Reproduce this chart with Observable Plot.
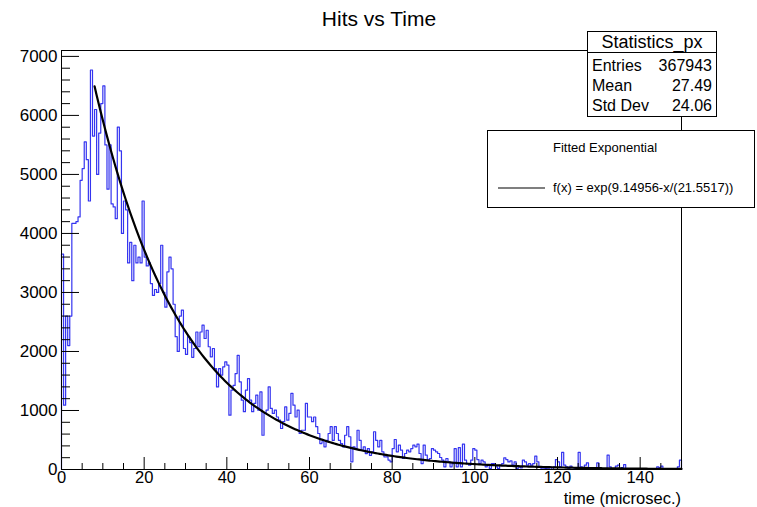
<!DOCTYPE html>
<html><head><meta charset="utf-8">
<script src="https://cdn.jsdelivr.net/npm/d3@7"></script>
<script src="https://cdn.jsdelivr.net/npm/@observablehq/plot@0.6"></script>
<style>body{margin:0;background:#fff}svg{display:block}</style>
</head><body><div id="chart"></div>
<script>
// ---- data ----
const titleText = "Hits vs Time";
const xLabel = "time (microsec.)";
const binWidth = 0.5;
const xStart = 0;
const xEnd = 150;
// bins 0 .. 64  (x 0 - 32.5)
const countsA = [3650,1090,2600,2100,2600,4170,4170,4200,4280,4900,5100,5550,5250,4550,6770,5650,6100,5000,5700,6200,6500,5500,4750,5500,4500,4450,4250,5800,5400,4000,4550,4400,3500,3850,3200,3800,3500,3600,3500,4550,3600,3450,3500,3150,2950,3050,3000,3150,3800,3000,2750,3350,3600,3400,2800,2250,2000,2600,2700,2050,1950,2250,2150,1900,2050];
// bins 65 .. 160 (x 32.5 - 80.5)
const countsB = [2330,2080,2330,2445,2220,2360,2080,1910,2050,1710,1400,1710,1600,1740,1825,1770,920,1345,1425,1625,1935,1485,1175,980,1345,1540,1175,980,1120,1260,1005,1315,580,950,1005,1400,1035,950,1005,890,835,695,810,1060,835,950,1290,1090,890,1005,610,665,665,1120,890,890,810,890,725,610,440,470,385,495,610,725,495,725,610,495,440,385,580,725,555,130,385,355,665,495,330,385,270,355,240,300,640,495,385,495,300,215,215,160,130,355];
// bins 161 .. 299 (x 80.5 - 150)
const countsC = [508,299,412,327,186,271,327,299,355,412,384,429,271,101,412,242,158,186,355,327,299,271,203,158,45,186,129,45,101,355,45,372,45,429,158,101,73,158,355,327,169,101,158,129,45,73,16,101,101,45,16,73,101,197,169,129,146,73,129,16,45,28,158,129,73,101,73,101,225,129,45,11,11,16,11,45,0,45,169,129,45,290,73,45,16,56,34,16,34,290,45,11,73,112,34,11,16,11,112,34,11,5,0,245,45,11,0,56,73,11,34,84,11,0,11,0,5,0,0,11,0,0,0,5,0,0,0,45,34,56,11,0,0,0,11,0,0,45,160];
const xTicks = [0,20,40,60,80,100,120,140];
const yTicks = [0,1000,2000,3000,4000,5000,6000,7000];
const xMinorStep = 5;
const yMinorStep = 200;
const yMax = 7100;
// fit shown in legend: f(x) = exp(p0 - x/p1)
const fitP0 = 9.14956, fitP1 = 21.5517, fitRange = [8, 150];
const statsTitle = "Statistics_px";
const statsLabels = ["Entries","Mean","Std Dev"];
const statsValues = ["367943","27.49","24.06"];
const legendHeader = "Fitted Exponential";
const legendEntry = "f(x) = exp(9.14956-x/(21.5517))";

// ---- build ----
const counts = [...countsA, ...countsB, ...countsC];
const stepData = [{x: xStart, y: 0}]
  .concat(counts.map((v, i) => ({x: xStart + i * binWidth, y: v})))
  .concat([{x: xEnd, y: counts[counts.length - 1]}, {x: xEnd, y: 0}]);
const fitData = d3.range(fitRange[0], fitRange[1] + 1e-9, 0.5).map(x => ({x, y: Math.exp(fitP0 - x / fitP1)}));
const xMinor = d3.range(xStart, xEnd + 1e-9, xMinorStep).filter(v => !xTicks.includes(v));
const yMinor = d3.range(0, yMax, yMinorStep).filter(v => !yTicks.includes(v));

const W = 757, H = 507, mL = 61, mR = 76, mT = 50, mB = 38;
const fw = W - mL - mR, fh = H - mT - mB;
const font = "'Liberation Sans', Arial, Helvetica, sans-serif";

const plot = Plot.plot({
  width: W, height: H,
  marginLeft: mL, marginRight: mR, marginTop: mT, marginBottom: mB,
  x: {domain: [xStart, xEnd]},
  y: {domain: [0, yMax]},
  style: {fontFamily: font, fontSize: "17px", color: "#000", background: "#fff"},
  marks: [
    Plot.line(stepData, {x: "x", y: "y", curve: "step-after", stroke: "#3434f0", strokeWidth: 1.2}),
    Plot.line(fitData, {x: "x", y: "y", stroke: "#000", strokeWidth: 2.2}),
    Plot.ruleX(xTicks, {x: d => d, insetTop: fh - 12, stroke: "#000"}),
    Plot.ruleX(xMinor, {x: d => d, insetTop: fh - 6, stroke: "#000"}),
    Plot.ruleY(yTicks, {y: d => d, insetRight: fw - 18, stroke: "#000"}),
    Plot.ruleY(yMinor, {y: d => d, insetRight: fw - 9, stroke: "#000"}),
    Plot.axisX({ticks: xTicks, tickSize: 0, tickPadding: 2, label: null, fontSize: 16.5, tickFormat: d => String(d)}),
    Plot.axisY({ticks: yTicks, tickSize: 0, tickPadding: 4, label: null, fontSize: 17, tickFormat: d => String(d)}),
    Plot.frame({stroke: "#000"})
  ]
});
document.getElementById("chart").appendChild(plot);

const svg = d3.select(plot);
svg.append("text").attr("x", 379).attr("y", 26).attr("text-anchor", "middle")
  .attr("font-family", font).attr("font-size", 21).attr("fill", "#000").text(titleText);
svg.append("text").attr("x", mL + fw).attr("y", 504).attr("text-anchor", "end")
  .attr("font-family", font).attr("font-size", 16.5).attr("fill", "#000").text(xLabel);

// stats box
const sb = svg.append("g").attr("font-family", font).attr("fill", "#000").attr("text-anchor", "start");
sb.append("rect").attr("x", 587.5).attr("y", 31.5).attr("width", 129).attr("height", 85)
  .attr("fill", "#fff").attr("stroke", "#000");
sb.append("line").attr("x1", 587.5).attr("x2", 716.5).attr("y1", 52.5).attr("y2", 52.5).attr("stroke", "#000");
sb.append("text").attr("x", 652).attr("y", 48).attr("text-anchor", "middle").attr("font-size", 18).text(statsTitle);
statsLabels.forEach((l, i) => {
  sb.append("text").attr("x", 592).attr("y", 71 + i * 20).attr("text-anchor", "start").attr("font-size", 16).text(l);
  sb.append("text").attr("x", 712).attr("y", 71 + i * 20).attr("text-anchor", "end").attr("font-size", 16).text(statsValues[i]);
});

// legend box
const lg = svg.append("g").attr("font-family", font).attr("fill", "#000").attr("text-anchor", "start");
lg.append("rect").attr("x", 487.5).attr("y", 130.5).attr("width", 267).attr("height", 77)
  .attr("fill", "#fff").attr("stroke", "#000");
lg.append("text").attr("x", 553).attr("y", 152).attr("text-anchor", "start").attr("font-size", 13).text(legendHeader);
lg.append("line").attr("x1", 498).attr("x2", 545).attr("y1", 188).attr("y2", 188).attr("stroke", "#000").attr("stroke-width", 1.2);
lg.append("text").attr("x", 553).attr("y", 192).attr("text-anchor", "start").attr("font-size", 13).text(legendEntry);
</script>
</body></html>
